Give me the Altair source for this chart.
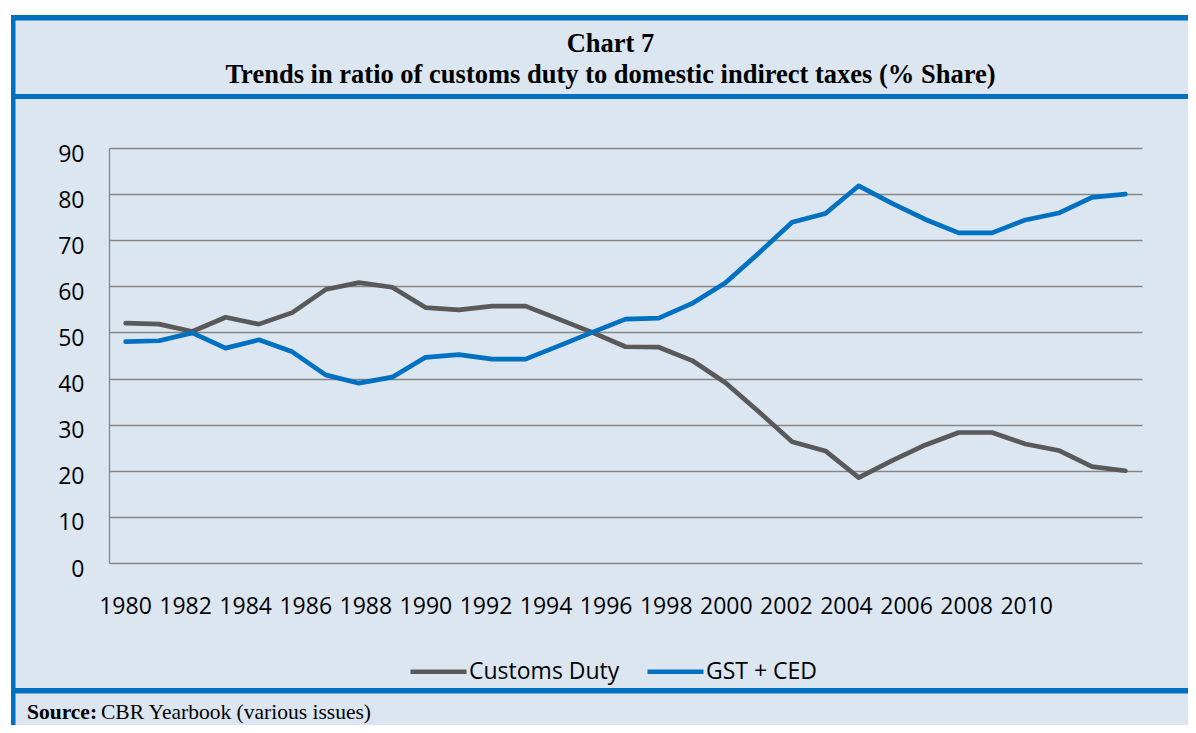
import altair as alt
import pandas as pd

# ---------------- data ----------------
years = [1980, 1981, 1982, 1983, 1984, 1985, 1986, 1987, 1988, 1989,
         1990, 1991, 1992, 1993, 1994, 1995, 1996, 1997, 1998, 1999,
         2000, 2001, 2002, 2003, 2004, 2005, 2006, 2007, 2008, 2009, 2010]
customs_duty = [52.0, 51.8, 50.2, 53.3, 51.8, 54.3, 59.3, 60.8, 59.8, 55.4,
                54.9, 55.7, 55.7, 52.9, 50.0, 46.9, 46.8, 43.9, 39.1, 32.8,
                26.3, 24.3, 18.5, 22.2, 25.6, 28.3, 28.3, 25.8, 24.4, 20.9, 20.0]
gst_ced = [48.0, 48.2, 49.9, 46.6, 48.4, 45.8, 40.8, 39.0, 40.3, 44.6,
           45.2, 44.2, 44.2, 47.1, 50.0, 52.9, 53.1, 56.3, 60.8, 67.2,
           73.9, 75.8, 81.8, 78.0, 74.5, 71.6, 71.6, 74.4, 75.9, 79.3, 80.0]
series_names = ["Customs Duty", "GST + CED"]
series_colors = ["#595959", "#0070C0"]
x_labels = ["1980", "1982", "1984", "1986", "1988", "1990", "1992", "1994",
            "1996", "1998", "2000", "2002", "2004", "2006", "2008", "2010"]
y_ticks = [0, 10, 20, 30, 40, 50, 60, 70, 80, 90]
title_line1 = "Chart 7"
title_line2 = "Trends in ratio of customs duty to domestic indirect taxes (% Share)"
source_bold = "Source:"
source_text = "CBR Yearbook (various issues)"

# ---------------- tables ----------------
df = pd.DataFrame({
    "year": years * 2,
    "value": customs_duty + gst_ced,
    "series": [series_names[0]] * len(years) + [series_names[1]] * len(years),
})
lab_df = pd.DataFrame({"idx": list(range(len(x_labels))), "label": x_labels})
one = pd.DataFrame({"k": [0]})

W, H = 1033, 415
BLUE = "#0070C0"
BG = "#DCE6F1"


def band(x, x2, y, y2, color):
    return alt.Chart(one).mark_rect(color=color).encode(
        x=alt.value(x), x2=alt.value(x2), y=alt.value(y), y2=alt.value(y2))


def label(text, x, y, font, size, weight="normal", align="center"):
    d = pd.DataFrame({"t": [text]})
    return alt.Chart(d).mark_text(font=font, fontSize=size, fontWeight=weight,
                                  align=align, baseline="alphabetic",
                                  color="#000000").encode(
        x=alt.value(x), y=alt.value(y), text="t:N")


deco = [
    band(-101, 1079, -140, -133, "white"),
    band(-101, -98, -140, 577, "white"),
    band(-98, -93.5, -133, 577, BLUE),
    band(-98, 1079, -133, -127.5, BLUE),
    band(-98, 1079, -54, -49, BLUE),
    band(-98, 1079, 540, 545.5, BLUE),
]

lines = alt.Chart(df).mark_line(strokeWidth=4.7, strokeCap="round",
                                strokeJoin="round").encode(
    x=alt.X("year:Q", scale=alt.Scale(domain=[1979.5, 2010.5], nice=False, zero=False),
            axis=None),
    y=alt.Y("value:Q", scale=alt.Scale(domain=[0, 90], nice=False),
            axis=alt.Axis(values=y_ticks, grid=True, gridColor="#868686", gridWidth=1.3,
                          domain=True, domainColor="#868686", domainWidth=1.3,
                          ticks=False, labelFont="Open Sans", labelFontSize=23,
                          labelColor="#000000", labelPadding=25, labelOffset=6,
                          title=None)),
    color=alt.Color("series:N",
                    scale=alt.Scale(domain=series_names, range=series_colors),
                    legend=alt.Legend(title=None, orient="none", legendX=299, legendY=493,
                                      direction="horizontal", symbolType="stroke",
                                      symbolSize=3136, symbolStrokeWidth=4.7,
                                      labelFont="Open Sans", labelFontSize=23,
                                      labelColor="#000000", labelOffset=0,
                                      columnPadding=18, padding=0)),
)

xlab = alt.Chart(lab_df).mark_text(font="Open Sans", fontSize=23, color="#000000",
                                   align="center", baseline="middle").encode(
    x=alt.X("idx:Q", scale=alt.Scale(domain=[-0.2746, 16.919], nice=False, zero=False),
            axis=None),
    y=alt.value(459),
    text="label:N",
)

texts = [
    label(title_line1, 501.5, -96, "Liberation Serif", 26.5, "bold"),
    label(title_line2, 501.5, -65, "Liberation Serif", 26.5, "bold"),
    label(source_bold, -82, 571, "Liberation Serif", 21.5, "bold", "left"),
    label(source_text, -8, 571, "Liberation Serif", 21.5, "normal", "left"),
]

chart = alt.layer(*deco, lines, xlab, *texts).resolve_scale(
    x="independent"
).properties(
    width=W, height=H,
    padding={"left": 101, "top": 140, "right": 46, "bottom": 162},
    autosize=alt.AutoSizeParams(type="none"),
).configure(background=BG).configure_view(strokeWidth=0)

chart.save("out.html", embed_options={"renderer": "svg", "actions": False})
